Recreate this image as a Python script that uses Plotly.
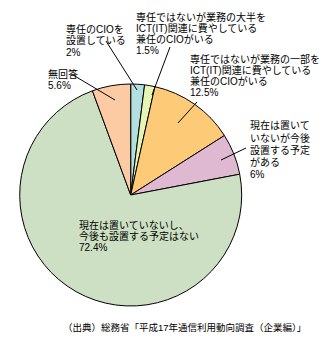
import plotly.graph_objects as go

W, H = 328, 348

# ---- data ----
categories = [
    "専任のCIOを設置している",
    "専任ではないが業務の大半をICT(IT)関連に費やしている兼任のCIOがいる",
    "専任ではないが業務の一部をICT(IT)関連に費やしている兼任のCIOがいる",
    "現在は置いていないが今後設置する予定がある",
    "現在は置いていないし、今後も設置する予定はない",
    "無回答",
]
values = [2.0, 1.5, 12.5, 6.0, 72.4, 5.6]
value_labels = ["2%", "1.5%", "12.5%", "6%", "72.4%", "5.6%"]
label_lines = [
    ["専任のCIOを", "設置している"],
    ["専任ではないが業務の大半を", "ICT(IT)関連に費やしている", "兼任のCIOがいる"],
    ["専任ではないが業務の一部を", "ICT(IT)関連に費やしている", "兼任のCIOがいる"],
    ["現在は置いて", "いないが今後", "設置する予定", "がある"],
    ["現在は置いていないし、", "今後も設置する予定はない"],
    ["無回答"],
]
colors = ["#b3dfe0", "#e6f4b4", "#fdca78", "#dfb9d1", "#cde0c3", "#fccaa3"]
source_text = "（出典）総務省「平成17年通信利用動向調査（企業編）」"

# ---- layout (pixel positions) ----
cx, cy, r = 130.7, 195.0, 111.0
# label block: left x, first-line center y, line pitch
label_pos = [
    (65, 29.5, 11.3),
    (135, 16.5, 11.3),
    (189, 58.5, 11.3),
    (249, 126, 12),
    (78, 225, 11.3),
    (47, 74, 11.3),
]
# leader lines: (x0, y0) near text -> (x1, y1) inside slice, None for no leader
leaders = [
    (106, 41, 137, 90),
    (170, 47, 152, 95),
    (197, 102, 178, 123),
    (246, 148, 221, 160),
    None,
    (73, 75, 115, 100),
]

FONT = "Liberation Sans, Noto Sans CJK JP, sans-serif"
FS = 10
FS_SRC = 9.5

def px(x):
    return x / W

def py(y):
    return 1 - y / H

fig = go.Figure(
    go.Pie(
        labels=categories,
        values=values,
        sort=False,
        direction="clockwise",
        rotation=0,
        marker=dict(colors=colors, line=dict(color="black", width=1)),
        textinfo="none",
        hoverinfo="label+percent",
        showlegend=False,
        domain=dict(x=[px(cx - r), px(cx + r)], y=[py(cy + r), py(cy - r)]),
    )
)

annotations = []
for lines, vlab, (lx, ly, sp) in zip(label_lines, value_labels, label_pos):
    for i, t in enumerate(lines + [vlab]):
        annotations.append(dict(
            x=px(lx), y=py(ly + i * sp), xref="paper", yref="paper",
            text=t, showarrow=False, xanchor="left", yanchor="middle",
            borderpad=0,
            font=dict(family=FONT, size=FS, color="black"),
        ))

annotations.append(dict(
    x=px(185), y=py(327), xref="paper", yref="paper", text=source_text,
    showarrow=False, xanchor="center", yanchor="middle", borderpad=0,
    font=dict(family=FONT, size=FS_SRC, color="black"),
))

shapes = []
for ld in leaders:
    if ld is None:
        continue
    x0, y0, x1, y1 = ld
    shapes.append(dict(type="line", xref="paper", yref="paper",
                       x0=px(x0), y0=py(y0), x1=px(x1), y1=py(y1),
                       line=dict(color="black", width=1)))

fig.update_layout(
    width=W, height=H,
    margin=dict(l=0, r=0, t=0, b=0),
    paper_bgcolor="white", plot_bgcolor="white",
    annotations=annotations, shapes=shapes,
)

fig.write_html("out.html")
